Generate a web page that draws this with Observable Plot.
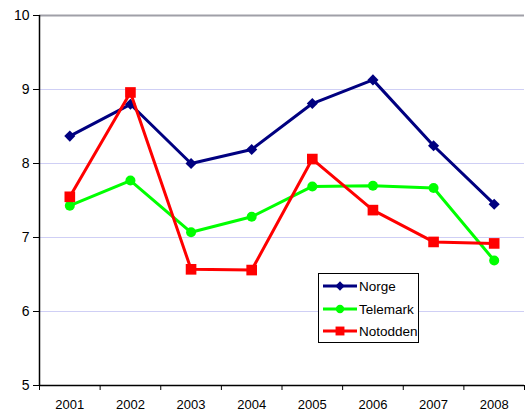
<!DOCTYPE html>
<html>
<head>
<meta charset="utf-8">
<script src="https://cdn.jsdelivr.net/npm/d3@7"></script>
<script src="https://cdn.jsdelivr.net/npm/@observablehq/plot@0.6"></script>
<style>
  html, body { margin: 0; padding: 0; background: #fff; }
  #wrap { position: relative; width: 525px; height: 411px; font-family: "Liberation Sans", Arial, sans-serif; }
  #legend { position: absolute; left: 318px; top: 273px; width: 99px; height: 68px; border: 1px solid #000; background: #fff; box-sizing: content-box; }
  .li { position: absolute; left: 4px; height: 16px; display: flex; align-items: center; font-size: 13.5px; color: #000; }
  .li svg { margin-right: 2px; }
</style>
</head>
<body>
<div id="wrap"></div>
<script>
const years = [2001, 2002, 2003, 2004, 2005, 2006, 2007, 2008];
const norge = [8.37, 8.80, 8.00, 8.19, 8.81, 9.13, 8.24, 7.45];
const telemark = [7.43, 7.77, 7.07, 7.28, 7.69, 7.70, 7.67, 6.69];
const notodden = [7.55, 8.96, 6.57, 6.56, 8.06, 7.37, 6.94, 6.92];
const seriesNames = ["Norge", "Telemark", "Notodden"];
const seriesColors = ["#000080", "#00ff00", "#ff0000"];
const seriesSymbols = ["diamond2", "circle", "square"];
const seriesR = [5, 5, 6];
const yTicks = [5, 6, 7, 8, 9, 10];

const values = [norge, telemark, notodden];
const data = seriesNames.flatMap((s, i) => years.map((y, j) => ({series: s, year: y, value: values[i][j]})));

const xDomain = [years[0] - 0.5, years[years.length - 1] + 0.5];
const boundaries = [...years.map(y => y - 0.5), years[years.length - 1] + 0.5];
const yDomain = [yTicks[0], yTicks[yTicks.length - 1]];

const marks = [
  Plot.gridY(yTicks.slice(1, -1), {stroke: "#cfcff5", strokeOpacity: 1, strokeWidth: 1}),
  Plot.ruleY([yDomain[1]], {stroke: "#a0a0a8", strokeWidth: 2}),
  Plot.axisY(yTicks, {label: null, tickSize: 6, tickPadding: 4, fontSize: 14, tickFormat: d => String(d), stroke: "#000"}),
  Plot.axisX(boundaries, {label: null, tickSize: 5, tickFormat: () => "", stroke: "#000"}),
  Plot.axisX(years, {label: null, tickSize: 0, tickPadding: 14, fontSize: 13, tickFormat: d => String(d)}),
  Plot.ruleY([yDomain[0]], {stroke: "#000", strokeWidth: 1.5}),
  Plot.ruleX([xDomain[0]], {stroke: "#000", strokeWidth: 1.5})
];
seriesNames.forEach((s, i) => {
  const d = data.filter(r => r.series === s);
  marks.push(Plot.line(d, {x: "year", y: "value", stroke: seriesColors[i], strokeWidth: 3}));
  marks.push(Plot.dot(d, {x: "year", y: "value", fill: seriesColors[i], stroke: "none", r: seriesR[i], symbol: () => seriesSymbols[i]}));
});

const chart = Plot.plot({
  width: 525,
  height: 411,
  marginLeft: 39,
  marginRight: 1,
  marginTop: 15,
  marginBottom: 26,
  style: {fontFamily: "'Liberation Sans', Arial, sans-serif", fontSize: "13px", color: "#000", background: "#fff", overflow: "visible"},
  x: {domain: xDomain, axis: null, label: null},
  y: {domain: yDomain, axis: null, label: null},
  symbol: {domain: seriesSymbols, range: seriesSymbols},
  marks
});
const wrap = document.getElementById("wrap");
wrap.appendChild(chart);

// Legend
const legend = document.createElement("div");
legend.id = "legend";
const tops = [4, 27, 49];
seriesNames.forEach((s, i) => {
  const item = document.createElement("div");
  item.className = "li";
  item.style.top = tops[i] + "px";
  const svg = d3.create("svg").attr("width", 34).attr("height", 16);
  svg.append("line").attr("x1", 0).attr("x2", 34).attr("y1", 8).attr("y2", 8)
     .attr("stroke", seriesColors[i]).attr("stroke-width", 3);
  const symMap = {diamond2: d3.symbolDiamond2, circle: d3.symbolCircle, square: d3.symbolSquare};
  svg.append("path").attr("transform", "translate(17,8)")
     .attr("d", d3.symbol(symMap[seriesSymbols[i]], Math.PI * seriesR[i] * seriesR[i] * 0.7)())
     .attr("fill", seriesColors[i]);
  item.appendChild(svg.node());
  const t = document.createElement("span");
  t.textContent = s;
  item.appendChild(t);
  legend.appendChild(item);
});
wrap.appendChild(legend);
</script>
</body>
</html>
